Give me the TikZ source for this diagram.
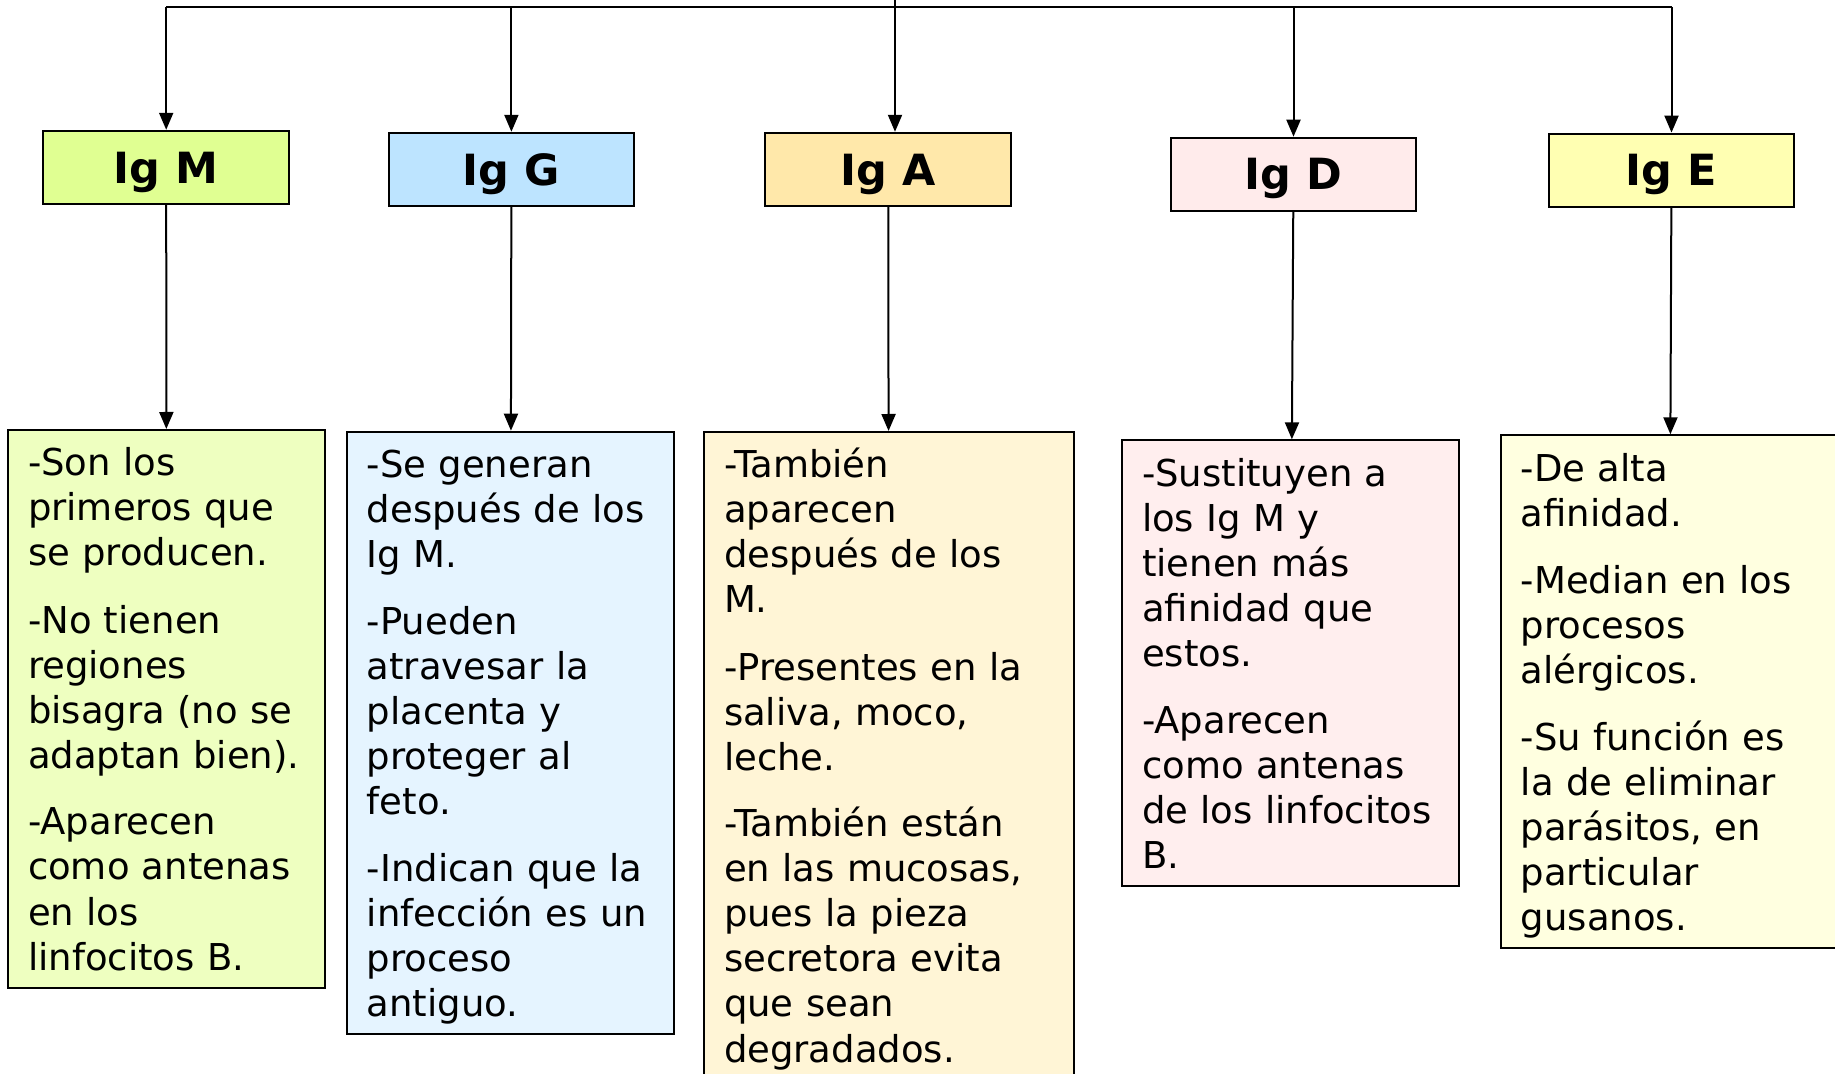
\documentclass[tikz,border=0pt]{standalone}
\usepackage{fontspec}
\setmainfont{DejaVu Sans}
\usetikzlibrary{arrows.meta}
\definecolor{verdeM}{RGB}{224,255,146}
\definecolor{verdeMc}{RGB}{238,255,192}
\definecolor{azulG}{RGB}{189,228,255}
\definecolor{azulGc}{RGB}{229,244,255}
\definecolor{ocreA}{RGB}{255,232,170}
\definecolor{ocreAc}{RGB}{255,245,214}
\definecolor{rosaD}{RGB}{255,235,235}
\definecolor{rosaDc}{RGB}{255,238,238}
\definecolor{amarE}{RGB}{255,255,178}
\definecolor{amarEc}{RGB}{255,255,224}
\begin{document}
\begin{tikzpicture}[x=0.5pt,y=-0.5pt,line width=1pt,>={Triangle[length=8.5pt,width=7pt]},
  titulo/.style={rectangle,draw,minimum width=122.8pt,minimum height=36.6pt,
    font=\fontsize{21.5}{26}\selectfont\bfseries,text height=15.7pt,text depth=0pt},
  cuadro/.style={rectangle,draw,anchor=north,align=left,inner xsep=10pt,inner ysep=3pt,
    font=\fontsize{18.5}{22.5}\selectfont,
    execute at begin node=\rule{0pt}{20pt},
    execute at end node=\rule[-5.75pt]{0pt}{5.75pt}}]
\useasboundingbox (0,0) rectangle (1835,1074);

\coordinate (T0) at (895,-10);
\coordinate (T) at (895,7);
\coordinate (M) at (166.2,167.4);
\coordinate (G) at (511.4,169.4);
\coordinate (A) at (888.2,169.4);
\coordinate (D) at (1293.5,174.3);
\coordinate (E) at (1671.5,170.2);
\coordinate (Mt) at (166.5,429);
\coordinate (Gt) at (510.4,430.7);
\coordinate (At) at (889,431);
\coordinate (Dt) at (1290.5,439.3);
\coordinate (Et) at (1669.3,434.3);


\node[titulo,fill=verdeM] (M1) at (M) {Ig M};
\node[titulo,fill=azulG] (G1) at (G) {Ig G};
\node[titulo,fill=ocreA] (A1) at (A) {Ig A};
\node[titulo,fill=rosaD] (D1) at (D) {Ig D};
\node[titulo,fill=amarE] (E1) at (E) {Ig E};

\node[cuadro,fill=verdeMc,text width=138.5pt] (M2) at (Mt) {-Son los\\ primeros que\\ se producen.\\[11pt]
  -No tienen\\ regiones\\ bisagra (no se\\ adaptan bien).\\[11pt]
  -Aparecen\\ como antenas\\ en los\\ linfocitos B.};
\node[cuadro,fill=azulGc,text width=143.6pt] (G2) at (Gt) {-Se generan\\ después de los\\ Ig M.\\[11pt]
  -Pueden\\ atravesar la\\ placenta y\\ proteger al\\ feto.\\[11pt]
  -Indican que la\\ infección es un\\ proceso\\ antiguo.};
\node[cuadro,fill=ocreAc,text width=165pt] (A2) at (At) {-También\\ aparecen\\ después de los\\ M.\\[11pt]
  -Presentes en la\\ saliva, moco,\\ leche.\\[11pt]
  -También están\\ en las mucosas,\\ pues la pieza\\ secretora evita\\ que sean\\ degradados.};
\node[cuadro,fill=rosaDc,text width=148.5pt] (D2) at (Dt) {-Sustituyen a\\ los Ig M y\\ tienen más\\ afinidad que\\ estos.\\[11pt]
  -Aparecen\\ como antenas\\ de los linfocitos\\ B.};
\node[cuadro,fill=amarEc,text width=148.5pt] (E2) at (Et) {-De alta\\ afinidad.\\[11pt]
  -Median en los\\ procesos\\ alérgicos.\\[11pt]
  -Su función es\\ la de eliminar\\ parásitos, en\\ particular\\ gusanos.};

\draw (T0) -- (T);
\draw (T -| M1) -- (T -| E1);
\draw[->] (T -| M1) -- (M1);
\draw[->] (T -| G1) -- (G1);
\draw[->] (T) -- (T |- A1.north);
\draw[->] (T -| D1) -- (D1);
\draw[->] (T -| E1) -- (E1);
\draw[->] (M1) -- (M2);
\draw[->] (G1) -- (G2);
\draw[->] (A1) -- (A2);
\draw[->] (D1) -- (D2);
\draw[->] (E1) -- (E2);


\end{tikzpicture}
\end{document}
